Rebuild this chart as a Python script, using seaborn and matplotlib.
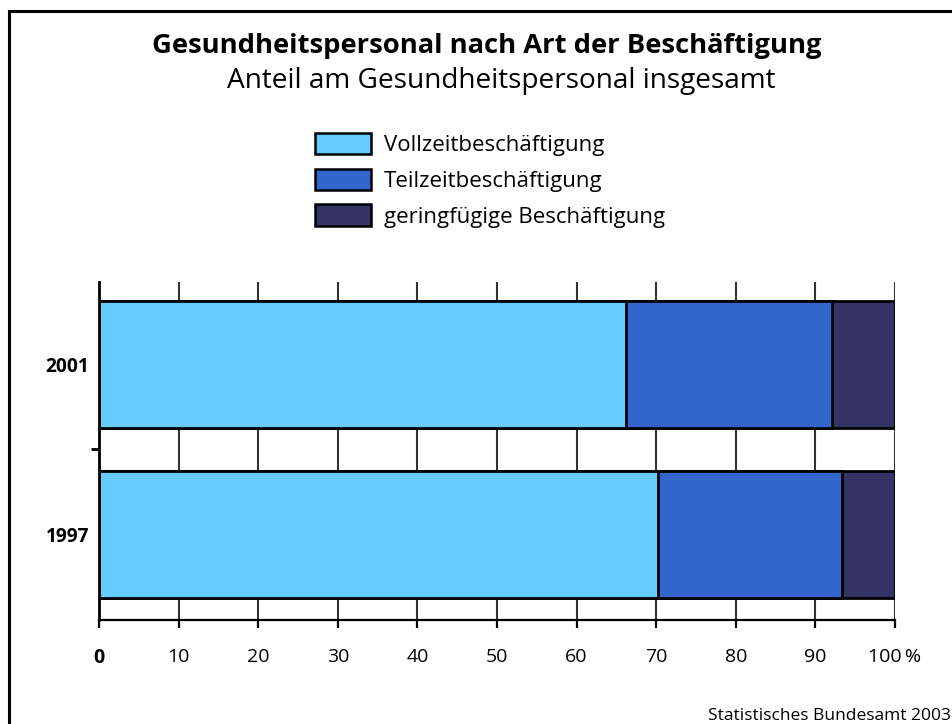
import matplotlib
matplotlib.use("Agg")
import matplotlib.pyplot as plt
import seaborn as sns
import pandas as pd
import numpy as np
from matplotlib.patches import Rectangle, Patch

sns.set_theme(style="white")
plt.rcParams['font.family'] = ['Open Sans', 'DejaVu Sans']
plt.rcParams['text.color'] = 'black'
plt.rcParams['xtick.color'] = 'black'
plt.rcParams['ytick.color'] = 'black'

years = ["2001", "1997"]
series = ["Vollzeitbeschäftigung", "Teilzeitbeschäftigung", "geringfügige Beschäftigung"]
vollzeit = [66.2, 70.2]
teilzeit = [25.9, 23.1]
geringfuegig = [7.9, 6.7]
colors = ["#66CCFF", "#3366CC", "#333366"]
xticks = [0, 10, 20, 30, 40, 50, 60, 70, 80, 90, 100]
xticklabels = ["0", "10", "20", "30", "40", "50", "60", "70", "80", "90", "100\u2009%"]

W, H = 953, 724
fig = plt.figure(figsize=(W / 100, H / 100), dpi=100)
ax = fig.add_axes([99 / W, (H - 620) / H, (895 - 99) / W, (620 - 282) / H])

df = pd.DataFrame({"year": years, "v": vollzeit, "t": teilzeit, "g": geringfuegig})
df["c1"] = df["v"]
df["c2"] = df["v"] + df["t"]
df["c3"] = df["v"] + df["t"] + df["g"]

for col, color in zip(["c3", "c2", "c1"], colors[::-1]):
    sns.barplot(data=df, x=col, y="year", order=years, orient="h", color=color,
                saturation=1, edgecolor="black", linewidth=2, width=0.747, ax=ax, zorder=3)

ax.set_xlim(0, 100)
ax.set_ylim(1.503, -0.485)
ax.set_xlabel("")
ax.set_ylabel("")

for x in xticks[1:]:
    ax.axvline(x, color="#333333", lw=1.5, zorder=1)

for s in ["top", "right"]:
    ax.spines[s].set_visible(False)
ax.spines["left"].set_color("black")
ax.spines["left"].set_linewidth(2)
ax.spines["left"].set_zorder(5)
ax.spines["bottom"].set_color("black")
ax.spines["bottom"].set_linewidth(1.6)

ax.set_xticks(xticks)
ax.set_xticklabels(xticklabels, fontsize=14)
ax.tick_params(axis="x", bottom=True, length=6, width=1.6, color="black", pad=14, labelcolor="black")
ax.get_xticklabels()[0].set_fontweight("bold")

ax.set_yticks([0, 1])
ax.set_yticklabels(years, fontsize=13.8, fontweight="bold")
ax.tick_params(axis="y", left=False, length=0, pad=7, labelcolor="black")
ax.set_yticks([0.5], minor=True)
ax.tick_params(axis="y", which="minor", left=True, length=6, width=2, color="black")

fig.text(487 / W, 1 - 46 / H, "Gesundheitspersonal nach Art der Beschäftigung",
         ha="center", va="center", fontsize=19.7, fontweight="bold")
fig.text(501 / W, 1 - 81 / H, "Anteil am Gesundheitspersonal insgesamt",
         ha="center", va="center", fontsize=20.2)

handles = [Patch(facecolor=c, edgecolor="black", linewidth=1.8) for c in colors]
leg = fig.legend(handles, series, loc="upper left", bbox_to_anchor=(315 / W, 1 - 133 / H),
                 frameon=False, fontsize=16, handlelength=2.5, handleheight=1.1,
                 handletextpad=0.6, labelspacing=0.56, borderaxespad=0, borderpad=0)

fig.text(951 / W, 1 - 716 / H, "Statistisches Bundesamt 2003", ha="right", va="center", fontsize=12.5)

fig.patches.append(Rectangle((9 / W, -0.1), 1.2, 1 - 11 / H + 0.1, transform=fig.transFigure,
                             fill=False, edgecolor="black", linewidth=2.2))

fig.savefig("out.png", dpi=100)
